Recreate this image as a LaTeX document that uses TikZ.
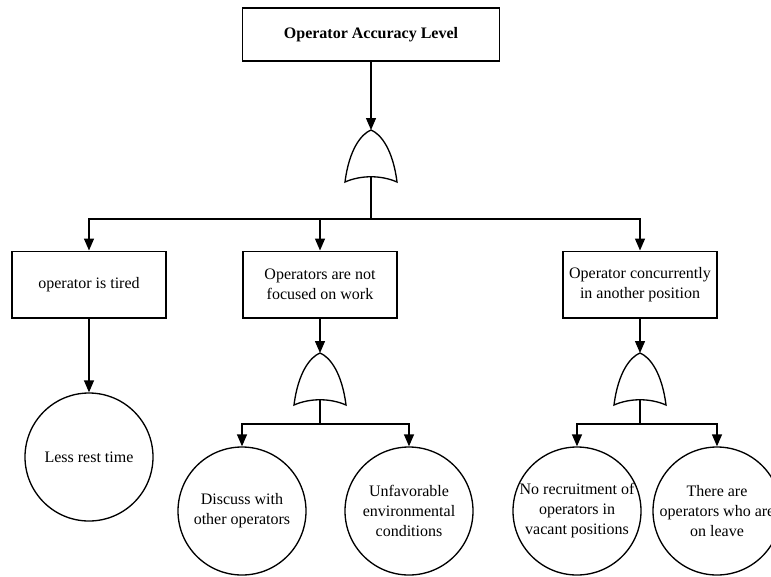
\documentclass[tikz,border=0pt]{standalone}
\usepackage{fontspec}
\setmainfont{Liberation Serif}
\usetikzlibrary{arrows.meta}

\begin{document}
\begin{tikzpicture}[
    x=0.75pt, y=-0.75pt,
    every node/.style={font=\fontsize{12}{15}\selectfont},
    box/.style={rectangle, draw, line width=1pt, minimum width=115.5pt, minimum height=50pt, align=center},
    event/.style={circle, draw, line width=1pt, minimum size=96pt, inner sep=-6pt, align=center},
    flow/.style={-{Triangle[length=9pt,width=7.5pt]}, line width=1pt},
    link/.style={line width=1pt},
    orgate/.pic={
        \draw[line width=1pt] (-26,52) .. controls (-22,20) and (-10,4) .. (0,0)
            .. controls (10,4) and (22,20) .. (26,52)
            .. controls (10,45) and (-10,45) .. cycle;
        \coordinate (-in) at (0,0);
        \coordinate (-out) at (0,47);
    }
]
\useasboundingbox (0,0) rectangle (771,576);

% Top event
\node[box, minimum width=192.75pt, minimum height=39.75pt] (top) at (371,34.5) {\textbf{Operator Accuracy Level}};

% Gates
\pic (g1) at (371,130) {orgate};
\pic (g2) at (320,353) {orgate};
\pic (g3) at (640,353) {orgate};

% Intermediate events
\node[box] (tired) at (89,284.5) {operator is tired};
\node[box] (focus) at (320,284.5) {Operators are not\\focused on work};
\node[box] (conc) at (640,284.5) {Operator concurrently\\in another position};

% Basic events
\node[event] (rest) at (89,457) {Less rest time};
\node[event] (discuss) at (242,511) {Discuss with\\other operators};
\node[event] (unfav) at (409,511) {Unfavorable\\environmental\\conditions};
\node[event] (recruit) at (577,511) {No recruitment of\\operators in\\vacant positions};
\node[event] (leave) at (717,511) {There are\\operators who are\\on leave};

% Junctions
\coordinate (bus1) at (371,219);
\coordinate (bus2) at (320,424);
\coordinate (bus3) at (640,424);

% Connections
\draw[flow] (top) -- (g1-in);
\draw[link] (g1-out) -- (bus1);
\draw[flow] (bus1) -| (tired);
\draw[flow] (bus1) -| (focus);
\draw[flow] (bus1) -| (conc);

\draw[flow] (tired) -- (rest);

\draw[flow] (focus) -- (g2-in);
\draw[link] (g2-out) -- (bus2);
\draw[flow] (bus2) -| (discuss);
\draw[flow] (bus2) -| (unfav);

\draw[flow] (conc) -- (g3-in);
\draw[link] (g3-out) -- (bus3);
\draw[flow] (bus3) -| (recruit);
\draw[flow] (bus3) -| (leave);

\end{tikzpicture}
\end{document}
